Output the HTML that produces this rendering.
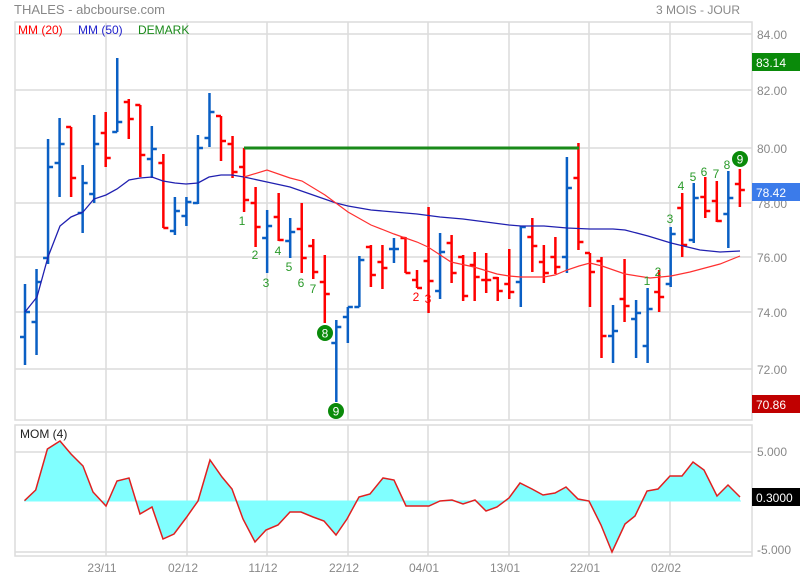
<!DOCTYPE html>
<html><head><meta charset="utf-8"><style>
body{margin:0;background:#fff;}
svg{display:block;font-family:"Liberation Sans",Arial,sans-serif;}
</style></head><body>
<svg id="s" width="800" height="580" xmlns="http://www.w3.org/2000/svg">
<rect width="800" height="580" fill="#fff"/>
<text x="14" y="14" font-size="13" fill="#888">THALES - abcbourse.com</text>
<text x="740" y="14" font-size="12" fill="#888" text-anchor="end">3 MOIS - JOUR</text>
<g id="grid" stroke="#dcdcdc" stroke-width="1.5" fill="none">
<rect x="15" y="22" width="737" height="398"/>
<rect x="15" y="425" width="737" height="131"/>
</g>
<text x="18" y="34" font-size="12" fill="#f00">MM (20)</text>
<text x="78" y="34" font-size="12" fill="#2222cc">MM (50)</text>
<text x="138" y="34" font-size="12" fill="#1a8a1a">DEMARK</text>
<text x="20" y="438" font-size="12" fill="#222">MOM (4)</text>
<g id="bars"></g>
<g id="lbl" font-size="12" fill="#888"></g>
</svg>
<script>
const S=document.getElementById('s');const NS='http://www.w3.org/2000/svg';
function el(t,a,p){const e=document.createElementNS(NS,t);for(const k in a)e.setAttribute(k,a[k]);(p||S).appendChild(e);return e;}
function tx(x,y,s,a){const e=el('text',Object.assign({x:x,y:y},a));e.textContent=s;return e;}
const G=document.getElementById('grid');
[34,90,148,203,257,312,369].forEach(y=>el('line',{x1:15,x2:752,y1:y,y2:y},G));
[106,187,267,348,428,509,589,670].forEach(x=>{el('line',{x1:x,x2:x,y1:22,y2:420},G);el('line',{x1:x,x2:x,y1:425,y2:556},G);});
[452,552].forEach(y=>el('line',{x1:15,x2:752,y1:y,y2:y},G));
// price labels
[["84.00",34],["82.00",90],["80.00",148],["78.00",203],["76.00",257],["74.00",312],["72.00",369]].forEach(a=>tx(757,a[1]+5,a[0],{'font-size':12,fill:'#888'}));
tx(757,456,"5.000",{'font-size':12,fill:'#888'});tx(757,554,"-5.000",{'font-size':12,fill:'#888'});
[["23/11",106],["02/12",187],["11/12",267],["22/12",348],["04/01",428],["13/01",509],["22/01",589],["02/02",670]].forEach(a=>tx(a[1]-4,572,a[0],{'font-size':12,fill:'#888','text-anchor':'middle'}));
// mom
const M=[[24.5,500.7],[35.7,490],[47.4,449],[60,441],[71,454],[83,466],[93,492],[106,506],[117,481],[129,478],[140,514],[152,507],[163,539],[174,534],[186,518],[198,501],[210,460],[222,477],[232,489],[243,519],[255,542],[266,530],[278,525],[290,512],[301,512],[313,517],[324,521],[336,535],[347,519],[359,497],[370,494],[383,478],[394,480],[406,506],[417,506],[429,506],[440,501],[452,500],[463,504],[475,500],[486,511],[497,507],[509,498],[520,483],[532,489],[543,495],[555,493],[566,487],[578,499],[589,501],[601,525],[612,552],[625,524],[635,516],[647,491],[658,489],[670,476],[682,476],[693,462],[704,470],[717,496],[728,485],[740,497]];
const mp=M.map(p=>p.join(',')).join(' ');
el('polygon',{points:'24.5,501 '+mp+' 740,501',fill:'#80ffff'});
el('line',{x1:24,x2:741,y1:501,y2:501,stroke:'#80ffff','stroke-width':1});
el('polyline',{points:mp,fill:'none',stroke:'#e02020','stroke-width':1.5});
// bars [top,bottom,open,close,color]
const B=[[284,365,337,312,'b'],[269,355,322,282,'b'],[139,264,258,167,'b'],[118,197,163,144,'b'],[127,197,127,178,'r'],[165,233,213,183,'b'],[115,203,194,144,'b'],[112,167,133,158,'r'],[58,132,132,122,'b'],[99,139,102,119,'r'],[105,177,105,155,'r'],[126,178,159,149,'b'],[154,228,163,228,'r'],[197,235,231,211,'b'],[197,226,216,202,'b'],[135,204,203,148,'b'],[93,147,138,112,'b'],[116,161,116,141,'r'],[136,178,144,172,'r'],[148,212,167,200,'r'],[187,247,203,227,'r'],[210,273,238,226,'b'],[193,241,217,240,'r'],[218,258,241,232,'b'],[203,273,229,258,'r'],[239,279,246,272,'r'],[255,323,282,294,'r'],[320,402,343,327,'b'],[307,343,317,307,'b'],[256,307,307,260,'b'],[245,287,247,275,'r'],[245,289,262,268,'r'],[238,263,249,249,'b'],[237,273,238,273,'r'],[270,288,280,288,'r'],[207,313,261,281,'r'],[233,299,291,252,'b'],[235,283,243,273,'r'],[255,301,257,296,'r'],[252,301,265,277,'r'],[253,293,280,280,'r'],[277,301,278,291,'r'],[249,299,284,292,'r'],[226,307,282,227,'b'],[218,272,237,246,'r'],[245,283,262,273,'r'],[237,274,257,267,'r'],[157,273,257,188,'b'],[143,250,178,242,'r'],[253,307,253,272,'r'],[257,358,261,336,'r'],[305,363,336,331,'b'],[259,322,299,306,'r'],[300,358,319,313,'b'],[288,363,346,309,'b'],[270,312,292,297,'r'],[227,287,284,234,'b'],[193,257,208,245,'r'],[183,243,240,198,'b'],[177,218,197,211,'r'],[181,222,201,221,'r'],[171,248,214,198,'b'],[169,207,184,190,'r']];
const BG=document.getElementById('bars');
// MAs
el('polyline',{points:'25,312 37,297 48,257 60,226 71,217 83,212 94,199 106,195 117,189 129,180 140,178 152,177 163,181 175,183 186,184 198,183 209,177 221,175 232,175 244,177 267,182 290,187 313,195 336,203 348,206 371,210 394,212 417,214 440,217 463,219 486,222 509,225 521,226 544,226 567,228 590,229 613,229 625,230 648,236 671,243 700,250 720,252 740,251',fill:'none',stroke:'#2020b0','stroke-width':1.3});
el('polyline',{points:'244,177 267,170 290,178 302,181 325,195 348,212 371,225 394,234 417,242 428,247 451,262 474,267 497,274 509,276 521,277 544,277 555,275 567,270 579,266 590,263 602,266 625,274 650,278 671,276 690,272 720,264 740,256',fill:'none',stroke:'#ff3030','stroke-width':1.2});
B.forEach((b,i)=>{const x=25+11.53*i;const c=b[4]=='b'?'#0a5fc4':'#ff0000';
el('line',{x1:x,x2:x,y1:b[0],y2:b[1],stroke:c,'stroke-width':2.5},BG);
el('line',{x1:x-5,x2:x,y1:b[2],y2:b[2],stroke:c,'stroke-width':2.5},BG);
el('line',{x1:x,x2:x+5,y1:b[3],y2:b[3],stroke:c,'stroke-width':2.5},BG);});
el('line',{x1:244,x2:579,y1:148,y2:148,stroke:'#1a8a1a','stroke-width':3});
// demark numbers
const gn=[["1",242,225],["2",255,259],["3",266,287],["4",278,255],["5",289,271],["6",301,287],["7",313,293],["1",647,285],["2",658,276],["3",670,223],["4",681,190],["5",693,181],["6",704,176],["7",716,178],["8",727,169]];
gn.forEach(a=>tx(a[1],a[2],a[0],{'font-size':12,fill:'#2a9a2a','text-anchor':'middle'}));
tx(416,301,"2",{'font-size':12,fill:'#f00','text-anchor':'middle'});tx(428,303,"3",{'font-size':12,fill:'#f00','text-anchor':'middle'});
[["8",325,333],["9",336,411],["9",740,159]].forEach(a=>{el('circle',{cx:a[1],cy:a[2],r:8,fill:'#0a8a0a'});tx(a[1],a[2]+4.5,a[0],{'font-size':12,fill:'#fff','text-anchor':'middle'});});
// value boxes
[["83.14",53,'#0a8a0a'],["78.42",183,'#3b7bea'],["70.86",395,'#c00000'],["0.3000",488,'#000']].forEach(a=>{el('rect',{x:752,y:a[1],width:48,height:18,fill:a[2]});tx(756,a[1]+14,a[0],{'font-size':12,fill:'#fff'});});
</script>
</body></html>
